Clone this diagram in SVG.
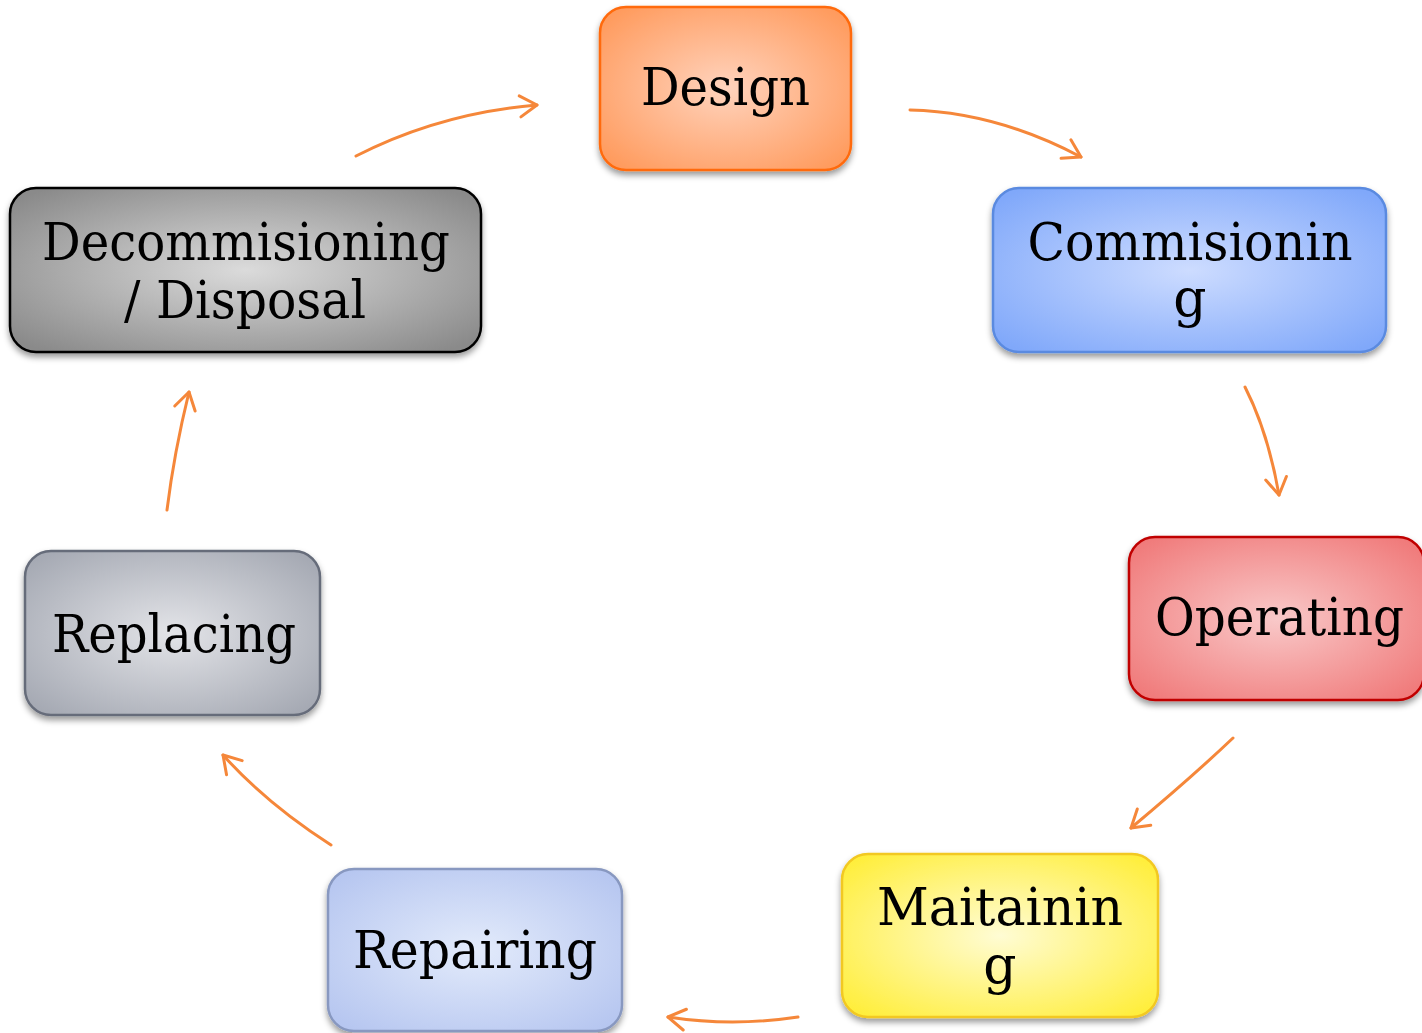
<svg xmlns="http://www.w3.org/2000/svg" width="1422" height="1033" viewBox="0 0 1422 1033">
<style>
.lbl{font-family:"DejaVu Serif","Liberation Serif",serif;font-size:52px;fill:#000;text-anchor:middle}
.box{stroke-width:2.5;filter:url(#sh)}
.arr{fill:none;stroke:#f5873a;stroke-width:3;stroke-linecap:round;marker-end:url(#ah)}
</style>
<defs>
<filter id="sh" x="-10%" y="-10%" width="120%" height="130%">
<feDropShadow dx="0" dy="4" stdDeviation="3" flood-color="#000" flood-opacity="0.4"/>
</filter>
<marker id="ah" markerUnits="userSpaceOnUse" markerWidth="30" markerHeight="30" refX="20" refY="15" orient="auto" viewBox="0 0 30 30">
<path d="M3,4.5 L20,15 L3,25.5" fill="none" stroke="#f5873a" stroke-width="3" stroke-linecap="round" stroke-linejoin="round"/>
</marker>
<radialGradient id="gDesign" cx="0.5" cy="0.5" r="0.65"><stop offset="0" stop-color="#ffd3bd"/><stop offset="1" stop-color="#ff9a5c"/></radialGradient>
<radialGradient id="gComm" cx="0.5" cy="0.5" r="0.65"><stop offset="0" stop-color="#cddcff"/><stop offset="1" stop-color="#80a8fa"/></radialGradient>
<radialGradient id="gOper" cx="0.5" cy="0.5" r="0.65"><stop offset="0" stop-color="#f9c9c9"/><stop offset="1" stop-color="#f07a7a"/></radialGradient>
<radialGradient id="gMait" cx="0.5" cy="0.5" r="0.65"><stop offset="0" stop-color="#fffcd4"/><stop offset="1" stop-color="#ffee3c"/></radialGradient>
<radialGradient id="gRep" cx="0.5" cy="0.5" r="0.65"><stop offset="0" stop-color="#e3ebfb"/><stop offset="1" stop-color="#b6c6f0"/></radialGradient>
<radialGradient id="gRepl" cx="0.5" cy="0.5" r="0.65"><stop offset="0" stop-color="#e3e4e8"/><stop offset="1" stop-color="#a5a9b3"/></radialGradient>
<radialGradient id="gDec" cx="0.5" cy="0.5" r="0.65"><stop offset="0" stop-color="#dbdbdb"/><stop offset="1" stop-color="#8a8a8a"/></radialGradient>
</defs>
<rect width="1422" height="1033" fill="#fff"/>
<g id="connectors">
<path class="arr" d="M356,156 Q440,113 537,105"/>
<path class="arr" d="M910,110 Q996,112 1081,157"/>
<path class="arr" d="M1245,387 Q1268,432 1279,495"/>
<path class="arr" d="M1233,738 Q1192,777 1131,828"/>
<path class="arr" d="M798,1017 Q732,1027 668,1017"/>
<path class="arr" d="M331,845 Q267,804 223,755"/>
<path class="arr" d="M167,510 Q174,453 189,392"/>
</g>
<g id="node-design">
<rect class="box" x="600" y="7" width="251" height="163" rx="26" fill="url(#gDesign)" stroke="#ff6a0a"/>
<text class="lbl" x="725.5" y="105" textLength="169" lengthAdjust="spacingAndGlyphs">Design</text>
</g>
<g id="node-commisioning">
<rect class="box" x="993" y="188" width="393" height="164" rx="26" fill="url(#gComm)" stroke="#5a8ae0"/>
<text class="lbl" x="1190" y="260" textLength="325" lengthAdjust="spacingAndGlyphs">Commisionin</text>
<text class="lbl" x="1190" y="316">g</text>
</g>
<g id="node-operating">
<rect class="box" x="1129" y="537" width="295" height="163" rx="26" fill="url(#gOper)" stroke="#c00000"/>
<text class="lbl" x="1279.5" y="635" textLength="249" lengthAdjust="spacingAndGlyphs">Operating</text>
</g>
<g id="node-maitaining">
<rect class="box" x="842" y="854" width="316" height="163" rx="26" fill="url(#gMait)" stroke="#f2c820"/>
<text class="lbl" x="1000" y="925" textLength="246" lengthAdjust="spacingAndGlyphs">Maitainin</text>
<text class="lbl" x="1000" y="983">g</text>
</g>
<g id="node-repairing">
<rect class="box" x="328" y="869" width="294" height="162" rx="26" fill="url(#gRep)" stroke="#8898c0"/>
<text class="lbl" x="475" y="968" textLength="244" lengthAdjust="spacingAndGlyphs">Repairing</text>
</g>
<g id="node-replacing">
<rect class="box" x="25" y="551" width="295" height="164" rx="26" fill="url(#gRepl)" stroke="#666c7a"/>
<text class="lbl" x="174" y="652" textLength="244" lengthAdjust="spacingAndGlyphs">Replacing</text>
</g>
<g id="node-decommisioning">
<rect class="box" x="10" y="188" width="471" height="164" rx="26" fill="url(#gDec)" stroke="#000"/>
<text class="lbl" x="246" y="260" textLength="408" lengthAdjust="spacingAndGlyphs">Decommisioning</text>
<text class="lbl" x="245" y="318" textLength="242" lengthAdjust="spacingAndGlyphs">/ Disposal</text>
</g>
</svg>
